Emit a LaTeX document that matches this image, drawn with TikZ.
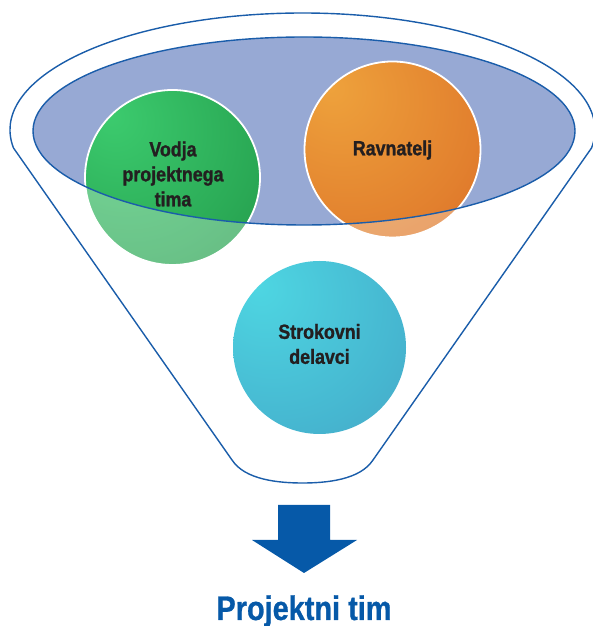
\documentclass[tikz,border=0pt]{standalone}
\usepackage{fontspec}
\newfontfamily\titlefont[FakeStretch=0.85,FakeBold=0.8]{Liberation Sans Bold}
\newfontfamily\heavyfont[FakeStretch=0.87,FakeBold=1.2]{Liberation Sans Bold}
\definecolor{funblue}{HTML}{1A5DAA}
\definecolor{elfill}{HTML}{97A9D4}
\definecolor{arrowblue}{HTML}{0659A8}
\definecolor{gtop}{HTML}{3CCB6E}
\definecolor{gmid}{HTML}{2AA955}
\definecolor{gdark}{HTML}{1E8A40}
\definecolor{otop}{HTML}{EEA23C}
\definecolor{omid}{HTML}{E2802E}
\definecolor{odark}{HTML}{D45E20}
\definecolor{ttop}{HTML}{4ED6E2}
\definecolor{tmid}{HTML}{46B6D0}
\definecolor{tdark}{HTML}{4A98BC}
\definecolor{labeltext}{HTML}{231F20}
\pgfdeclareradialshading{shgreen}{\pgfpoint{-18bp}{18bp}}{color(0bp)=(gtop); color(35bp)=(gmid); color(62bp)=(gdark); color(90bp)=(gdark)}
\pgfdeclareradialshading{shorange}{\pgfpoint{-18bp}{18bp}}{color(0bp)=(otop); color(35bp)=(omid); color(62bp)=(odark); color(90bp)=(odark)}
\pgfdeclareradialshading{shteal}{\pgfpoint{-18bp}{18bp}}{color(0bp)=(ttop); color(35bp)=(tmid); color(62bp)=(tdark); color(90bp)=(tdark)}
\tikzset{
  funnelline/.style={draw=funblue, line width=1.4pt},
  ball/.style={circle, minimum size=#1, inner sep=0pt},
  balllabel/.style={text=labeltext, font=\heavyfont\fontsize{20.5}{25}\selectfont, align=center},
}
\begin{document}
\begin{tikzpicture}[x=1pt,y=1pt]
\useasboundingbox (0,0) rectangle (593,626);
% funnel outline
\draw[funnelline, fill=white] (13.5,478) arc[start angle=188.85, end angle=-8.85, x radius=292.5pt, y radius=117pt]
  -- (373,166) .. controls (360,146) and (326,143) .. (302.5,143)
  .. controls (279,143) and (245,146) .. (232,166) -- cycle;
% inner ellipse fill
\fill[elfill] (304,495) ellipse [x radius=271pt, y radius=94pt];
% balls
\node[ball=175pt] (vodja) at (172.5,448.5) {};
\node[ball=176pt] (ravn) at (392.5,476.5) {};
\node[ball=173pt] (strok) at (319.5,278.5) {};
\shade[shading=shgreen] (vodja.center) circle[radius=87.5pt];
\shade[shading=shorange] (ravn.center) circle[radius=88pt];
\shade[shading=shteal] (strok.center) circle[radius=86.5pt];
% lighten parts outside the ellipse
\begin{scope}
  \clip (vodja.center) circle[radius=87.5pt] (ravn.center) circle[radius=88pt];
  \fill[white, fill opacity=0.3, even odd rule] (0,0) rectangle (593,626) (304,495) ellipse [x radius=271pt, y radius=94pt];
\end{scope}
\draw[white, line width=1.8pt] (vodja.center) circle[radius=87.5pt];
\draw[white, line width=1.8pt] (ravn.center) circle[radius=88pt];
% ellipse border on top
\draw[funnelline] (304,495) ellipse [x radius=271pt, y radius=94pt];
% labels
\node[balllabel] at (173,452) {Vodja\\projektnega\\tima};
\node[balllabel] at (392.5,476) {Ravnatelj};
\node[balllabel] at (319.5,282) {Strokovni\\delavci};
% arrow
\fill[arrowblue] (278,121) -- (330,121) -- (330,86) -- (357,86) -- (304,53) -- (252,86) -- (278,86) -- cycle;
\node[text=arrowblue, font=\titlefont\fontsize{34}{40}\selectfont, anchor=base] (title) at (304,6) {Projektni tim};
\end{tikzpicture}
\end{document}
